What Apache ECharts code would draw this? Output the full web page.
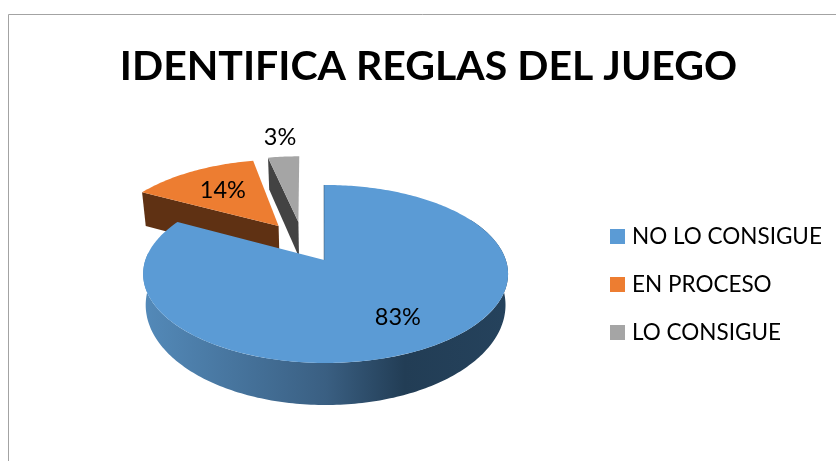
<!DOCTYPE html>
<html>
<head>
<meta charset="utf-8">
<style>html,body{margin:0;padding:0;background:#fff}#c{width:836px;height:461px}</style>
<script src="https://cdn.jsdelivr.net/npm/echarts@6/dist/echarts.min.js"></script>
</head>
<body>
<div id="c"></div>
<script>
var titleText = 'IDENTIFICA REGLAS DEL JUEGO';
var categories = ['NO LO CONSIGUE', 'EN PROCESO', 'LO CONSIGUE'];
var values = [82.8, 13.8, 3.4];
var topColors = ['#5b9bd5', '#ed7d31', '#a5a5a5'];
var sideColors = ['#2a4a66', '#5f3113', '#434343'];

var FONT = 'Lato, "Open Sans", sans-serif';
var view = {cx: 325.6, cy: 260, bx: 180.2, ay: 86.8, persp: 0.157};
var bottomDepth = [29.3, 37, 37];
var bottomX = [0.986, 0.98, 0.98];
var bottomY = [1.124, 1.05, 1.05];
var explodeU = [0, -0.278, -0.18];
var explodeV = [0, -0.417, -0.47];
var labelRadius = [0.7, 0.62, 1.36];
var startTilt = -0.6;
var apexTilt = [-1.5, 0, 3];

var total = values.reduce(function (a, b) { return a + b; }, 0);

function project(i, u, v, bottom) {
  var d = 1 - view.persp * v;
  var sx = bottom ? bottomX[i] : 1, sy = bottom ? bottomY[i] : 1;
  return [view.cx + sx * view.bx * u / d, view.cy + (bottom ? bottomDepth[i] : 0) + sy * view.ay * v / d];
}
function rim(i, deg, bottom, r) {
  var t = deg * Math.PI / 180, k = r == null ? 1 : r;
  return project(i, explodeU[i] + k * Math.sin(t), explodeV[i] - k * Math.cos(t), bottom);
}
function arc(i, a, b, bottom) {
  var pts = [], n = Math.max(2, Math.ceil(Math.abs(b - a)));
  for (var j = 0; j <= n; j++) pts.push(rim(i, a + (b - a) * j / n, bottom));
  return pts;
}
function sliceRenderer(i) {
  return function (params, api) {
    var before = 0;
    for (var k = 0; k < i; k++) before += values[k];
    var a0 = before / total * 360;
    var a1 = a0 + api.value(0) / total * 360;
    var apexTop = rim(i, 0, false, 0), apexBottom = rim(i, 0, true, 0);
    apexTop = [apexTop[0] + apexTilt[i], apexTop[1]];
    apexBottom = [apexBottom[0] + apexTilt[i], apexBottom[1]];
    var children = [];
    if (i === 0) {
      a0 += startTilt;
      children.push({
        type: 'polygon',
        shape: {points: arc(i, 60, 275, false).concat(arc(i, 60, 275, true).reverse())},
        style: {fill: new echarts.graphic.LinearGradient(147, 0, 505, 0, [
          {offset: 0, color: '#5389b8'},
          {offset: 0.5, color: '#3a5f82'},
          {offset: 0.72, color: '#223d55'},
          {offset: 1, color: '#25425c'}
        ], true)}
      });
    } else {
      children.push({
        type: 'polygon',
        shape: {points: [rim(i, a0, false), apexTop, apexBottom, rim(i, a0, true)]},
        style: {fill: sideColors[i]}
      });
    }
    children.push({
      type: 'polygon',
      shape: {points: [apexTop].concat(arc(i, a0, a1, false))},
      style: {fill: topColors[i]}
    });
    if (i === 0) {
      var e = rim(i, a0, false);
      children.push({
        type: 'line',
        shape: {x1: e[0], y1: e[1], x2: apexTop[0], y2: apexTop[1]},
        style: {stroke: sideColors[i], lineWidth: 1, opacity: 0.5}
      });
    }
    var mid = (a0 + a1) / 2, lp = rim(i, mid, false, labelRadius[i]);
    children.push({
      type: 'text',
      style: {
        x: lp[0], y: lp[1], text: Math.round(api.value(0)) + '%',
        fill: '#000', font: '23.5px ' + FONT, align: 'center', verticalAlign: 'middle'
      }
    });
    return {type: 'group', children: children};
  };
}

var chart = echarts.init(document.getElementById('c'), null, {renderer: 'canvas'});
chart.setOption({
  animation: false,
  backgroundColor: '#fff',
  title: {
    text: titleText, left: 423.5, top: 41, textAlign: 'center',
    textStyle: {fontFamily: FONT, fontWeight: 'bold', fontSize: 41, color: '#000'}
  },
  legend: {
    orient: 'vertical', left: 605, top: 219.5, icon: 'rect',
    itemWidth: 15, itemHeight: 15, itemGap: 24,
    selectedMode: false,
    data: categories,
    textStyle: {fontFamily: FONT, fontSize: 22.5, color: '#000', padding: [0, 0, 0, 2], lineHeight: 24}
  },
  graphic: [{
    type: 'rect', silent: true, z: -1,
    shape: {x: 8.5, y: 14.5, width: 900, height: 500},
    style: {fill: 'transparent', stroke: '#a3a3a3', lineWidth: 1}
  }],
  series: categories.map(function (name, i) {
    return {
      type: 'custom', name: name, coordinateSystem: 'none',
      z: i === 0 ? 3 : 2,
      itemStyle: {color: topColors[i]},
      encode: {value: 0},
      renderItem: sliceRenderer(i),
      data: [[values[i]]]
    };
  })
});
</script>
</body>
</html>
